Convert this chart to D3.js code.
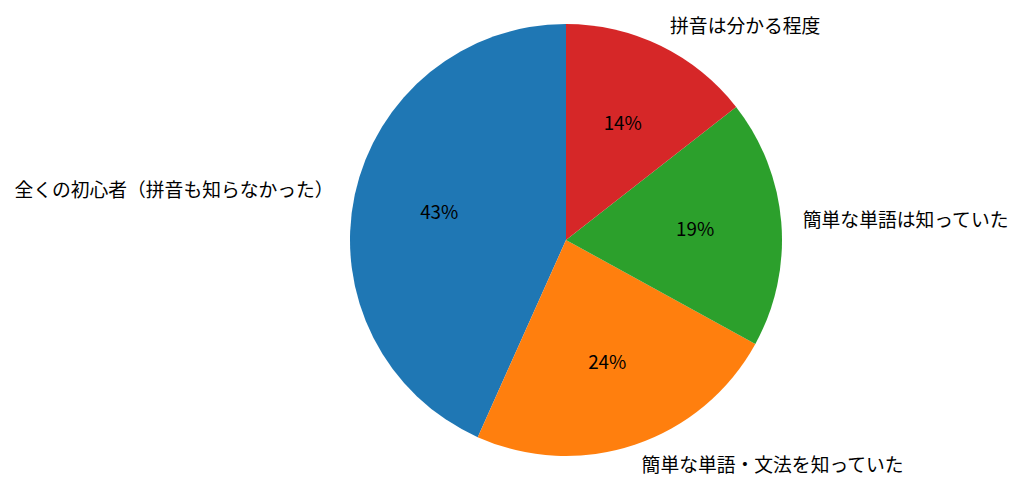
<!DOCTYPE html>
<html>
<head>
<meta charset="utf-8">
<script src="https://cdn.jsdelivr.net/npm/d3@7"></script>
<style>
  body { margin: 0; background: #fff; }
  text { font-family: "Noto Sans CJK JP", "Noto Sans", sans-serif; fill: #000; }
</style>
</head>
<body>
<div id="chart"></div>
<script>
var categories = ['全くの初心者（拼音も知らなかった）', '簡単な単語・文法を知っていた', '簡単な単語は知っていた', '拼音は分かる程度'];
var values = [42, 23, 18, 14];
var colors = ['#1f77b4', '#ff7f0e', '#2ca02c', '#d62728'];

var width = 1024;
var height = 503;
var cx = 566;
var cy = 240;
var radius = 216;
var fontSize = 18.8;

var svg = d3.select('#chart').append('svg').attr('width', width).attr('height', height);
var g = svg.append('g').attr('transform', 'translate(' + cx + ',' + cy + ')');

// matplotlib style: start at top, go counterclockwise
var pie = d3.pie().sort(null).value(function(d){ return d; })
  .startAngle(0).endAngle(-2 * Math.PI);
var arcs = pie(values);
var arc = d3.arc().innerRadius(0).outerRadius(radius);

g.selectAll('path.slice').data(arcs).enter().append('path')
  .attr('class', 'slice')
  .attr('d', arc)
  .style('fill', function(d, i){ return colors[i]; });

var total = d3.sum(values);

// d3 angle: 0 = top, clockwise positive
var pointAt = function(a, r){
  return [r * Math.sin(a), -r * Math.cos(a)];
};

// Percent labels at 0.6 radius
g.selectAll('text.pct').data(arcs).enter().append('text')
  .attr('class', 'pct')
  .attr('x', function(d){ return pointAt((d.startAngle + d.endAngle) / 2, radius * 0.6)[0]; })
  .attr('y', function(d){ return pointAt((d.startAngle + d.endAngle) / 2, radius * 0.6)[1]; })
  .attr('dy', '-2')
  .attr('text-anchor', 'middle')
  .attr('dominant-baseline', 'central')
  .style('font-size', fontSize + 'px')
  .text(function(d){ return Math.round(d.value / total * 100) + '%'; });

// Category labels at 1.1 radius
g.selectAll('text.lbl').data(arcs).enter().append('text')
  .attr('class', 'lbl')
  .attr('x', function(d){ return pointAt((d.startAngle + d.endAngle) / 2, radius * 1.1)[0]; })
  .attr('y', function(d){ return pointAt((d.startAngle + d.endAngle) / 2, radius * 1.1)[1]; })
  .attr('dy', '-2')
  .attr('text-anchor', function(d){ return pointAt((d.startAngle + d.endAngle) / 2, 1)[0] < 0 ? 'end' : 'start'; })
  .attr('dominant-baseline', 'central')
  .style('font-size', fontSize + 'px')
  .text(function(d, i){ return categories[i]; });
</script>
</body>
</html>
